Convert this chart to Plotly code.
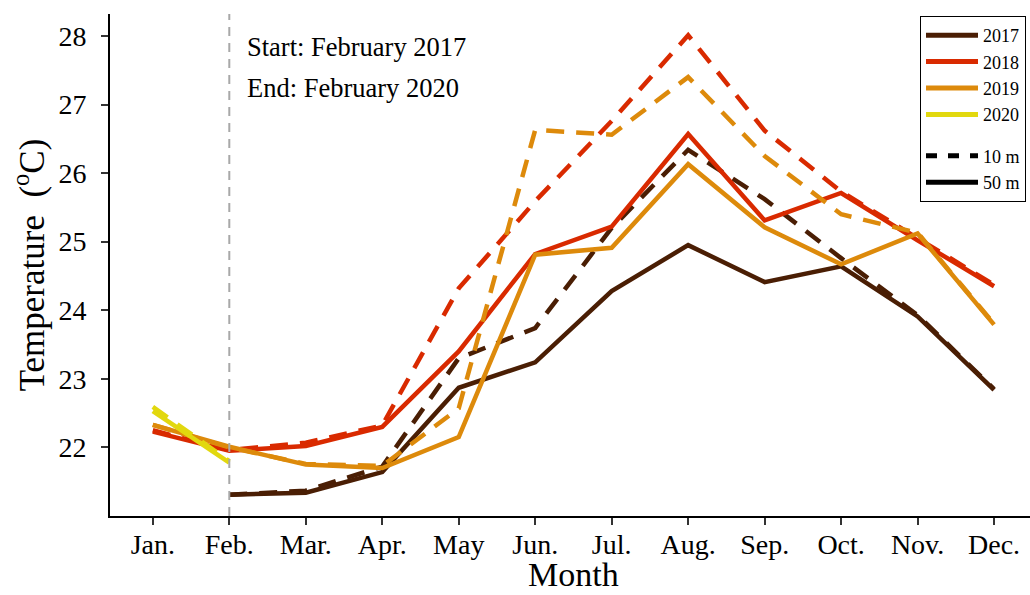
import plotly.graph_objects as go

months = ["Jan.", "Feb.", "Mar.", "Apr.", "May", "Jun.", "Jul.", "Aug.", "Sep.", "Oct.", "Nov.", "Dec."]
month_num = list(range(1, 13))

years = ["2017", "2018", "2019", "2020"]
colors = {"2017": "#4A1E04", "2018": "#D92A00", "2019": "#DD8A0B", "2020": "#E2D80E"}

t2017_10m = [None, 21.31, 21.37, 21.72, 23.30, 23.74, 25.20, 26.34, 25.62, 24.76, 23.93, 22.85]
t2017_50m = [None, 21.31, 21.34, 21.64, 22.87, 23.24, 24.28, 24.95, 24.41, 24.64, 23.91, 22.84]
t2018_10m = [22.25, 21.96, 22.07, 22.32, 24.32, 25.59, 26.76, 28.01, 26.62, 25.73, 25.05, 24.37]
t2018_50m = [22.23, 21.95, 22.02, 22.30, 23.40, 24.82, 25.22, 26.57, 25.31, 25.71, 25.02, 24.35]
t2019_10m = [22.33, 22.00, 21.76, 21.73, 22.57, 26.63, 26.56, 27.40, 26.25, 25.40, 25.13, 23.80]
t2019_50m = [22.33, 22.01, 21.75, 21.70, 22.15, 24.81, 24.91, 26.13, 25.21, 24.67, 25.12, 23.79]
t2020_10m = [22.59, 21.80, None, None, None, None, None, None, None, None, None, None]
t2020_50m = [22.53, 21.78, None, None, None, None, None, None, None, None, None, None]

series = {
    "2017": (t2017_10m, t2017_50m),
    "2018": (t2018_10m, t2018_50m),
    "2019": (t2019_10m, t2019_50m),
    "2020": (t2020_10m, t2020_50m),
}

y_ticks = [22, 23, 24, 25, 26, 27, 28]
FONT = "Liberation Serif, Times New Roman, serif"
DASH = "18px,12px"
LW = 4.5

fig = go.Figure()

for yr in years:
    v10, v50 = series[yr]
    fig.add_trace(go.Scatter(x=month_num, y=v10, mode="lines", showlegend=False,
                             line=dict(color=colors[yr], width=LW, dash=DASH),
                             connectgaps=False, hoverinfo="skip"))
    fig.add_trace(go.Scatter(x=month_num, y=v50, mode="lines", showlegend=False,
                             line=dict(color=colors[yr], width=LW),
                             connectgaps=False, hoverinfo="skip"))

# legend entries
for yr in years:
    fig.add_trace(go.Scatter(x=[None], y=[None], mode="lines", name=yr,
                             legendgroup="year", line=dict(color=colors[yr], width=5)))
fig.add_trace(go.Scatter(x=[None], y=[None], mode="lines", name="10 m",
                         legendgroup="depth", line=dict(color="black", width=5, dash="11px,11px")))
fig.add_trace(go.Scatter(x=[None], y=[None], mode="lines", name="50 m",
                         legendgroup="depth", line=dict(color="black", width=5)))

fig.add_shape(type="line", xref="x", yref="paper", x0=2, x1=2, y0=0, y1=1,
              line=dict(color="#A8A8A8", width=2, dash="9px,7px"))

fig.add_annotation(text="Start: February 2017", xref="paper", yref="paper",
                   x=(245 - 110) / 920, y=(516 - 47) / 502, xanchor="left", yanchor="middle",
                   showarrow=False, font=dict(family=FONT, size=26.5, color="black"))
fig.add_annotation(text="End: February 2020", xref="paper", yref="paper",
                   x=(245 - 110) / 920, y=(516 - 88) / 502, xanchor="left", yanchor="middle",
                   showarrow=False, font=dict(family=FONT, size=26.5, color="black"))
# x-axis title
fig.add_annotation(text="Month", xref="paper", yref="paper",
                   x=(573 - 110) / 920, y=(516 - 574) / 502, xanchor="center", yanchor="middle",
                   showarrow=False, font=dict(family=FONT, size=34, color="black"))

fig.update_layout(
    width=1030, height=595,
    margin=dict(l=110, r=0, t=14, b=79),
    paper_bgcolor="white", plot_bgcolor="white",
    font=dict(family=FONT, color="black"),
    legend=dict(x=(920 - 110) / 920, y=(516 - 16) / 502, xanchor="left", yanchor="top",
                bordercolor="black", borderwidth=1, bgcolor="white",
                font=dict(family=FONT, size=18, color="black"),
                traceorder="grouped", tracegroupgap=15, itemwidth=52),
    xaxis=dict(range=[0.44, 12.47], tickvals=month_num, ticktext=months,
               showline=True, linecolor="black", linewidth=2, mirror=False,
               ticks="outside", ticklen=7, tickwidth=2, tickcolor="#333333",
               showgrid=False, zeroline=False, automargin=False, ticklabelstandoff=-5,
               tickfont=dict(family=FONT, size=28, color="black")),
    yaxis=dict(range=[21.0, 28.32], tickvals=y_ticks,
               showline=True, linecolor="black", linewidth=2,
               ticks="outside", ticklen=7, tickwidth=2, tickcolor="#333333",
               showgrid=False, zeroline=False, automargin=False, ticklabelstandoff=9,
               tickfont=dict(family=FONT, size=28, color="black"),
               title=dict(text="Temperature  (<sup>o</sup>C)", font=dict(family=FONT, size=35, color="black"), standoff=3)),
)

fig.write_html("out.html", config={"displayModeBar": False},
               post_script="document.body.style.margin='0';document.body.style.overflow='hidden';")
